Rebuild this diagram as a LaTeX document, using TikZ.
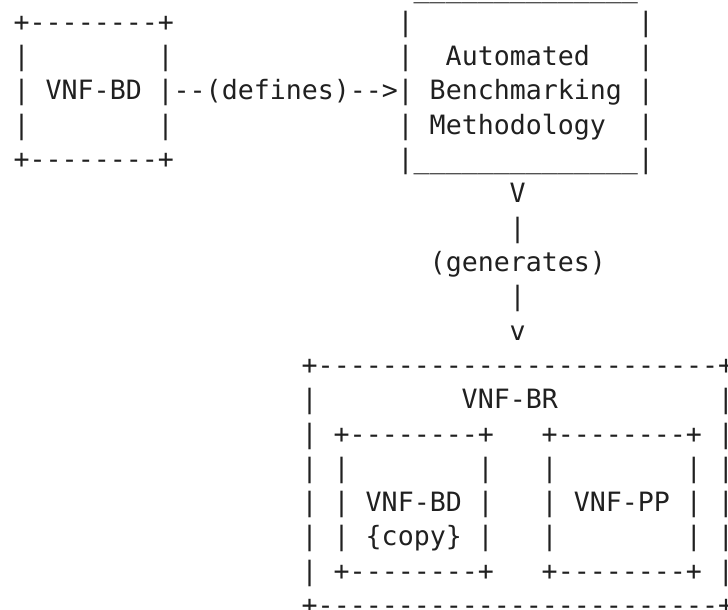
\documentclass[tikz,border=0pt]{standalone}
\usepackage{fontspec}
\setmonofont{DejaVu Sans Mono}
\definecolor{ink}{HTML}{202020}
\tikzstyle{ascii}=[anchor=base west, inner sep=0, outer sep=0, text=ink, font=\fontsize{13.3pt}{17pt}\ttfamily]
\newcommand{\uscore}{\_\_\_\_\_\_\_\_\_\_\_\_\_\_}

\begin{document}
\begin{tikzpicture}[x=8pt, y=-17.15pt]

\useasboundingbox [fill=white] (-0.856, -0.915) rectangle (44.64, 16.84);

% VNF-BD box
\node [ascii] (bdtop) at (0, 0) {+--------+};
\node [ascii] (bdbot) at (0, 4) {+--------+};
\foreach \r in {1,2,3} {
  \node [ascii] (bdl\r) at (0, \r) {|};
  \node [ascii] (bdr\r) at (9, \r) {|};
}
\node [ascii] (bd) at (2, 2) {VNF-BD};

\node [ascii] (defines) at (10, 2) {--(defines)-->};

% methodology box
\node [ascii] (abmtop) at (25, -1) {\uscore};
\foreach \r in {0,1,2,3} {
  \node [ascii] (abml\r) at (24, \r) {|};
  \node [ascii] (abmr\r) at (39, \r) {|};
}
\node [ascii] (abmbot) at (24, 4) {|\uscore|};
\node [ascii] (abm1) at (27, 1) {Automated};
\node [ascii] (abm2) at (26, 2) {Benchmarking};
\node [ascii] (abm3) at (26, 3) {Methodology};

\node [ascii] (genhead) at (31, 5) {V};
\node [ascii] (genbar1) at (31, 6) {|};
\node [ascii] (generates) at (26, 7) {(generates)};
\node [ascii] (genbar2) at (31, 8) {|};
\node [ascii] (gentip) at (31, 9) {v};

% VNF-BR box
\node [ascii] (brtop) at (18, 10) {+-------------------------+};
\node [ascii] (brbot) at (18, 17) {+-------------------------+};
\foreach \r in {11,...,16} {
  \node [ascii] (brl\r) at (18, \r) {|};
  \node [ascii] (brr\r) at (44, \r) {|};
}
\node [ascii] (br) at (28, 11) {VNF-BR};

\node [ascii] (cptop) at (20, 12) {+--------+};
\node [ascii] (cpbot) at (20, 16) {+--------+};
\node [ascii] (pptop) at (33, 12) {+--------+};
\node [ascii] (ppbot) at (33, 16) {+--------+};
\foreach \r in {13,14,15} {
  \node [ascii] (cpl\r) at (20, \r) {|};
  \node [ascii] (cpr\r) at (29, \r) {|};
  \node [ascii] (ppl\r) at (33, \r) {|};
  \node [ascii] (ppr\r) at (42, \r) {|};
}
\node [ascii] (cp1) at (22, 14) {VNF-BD};
\node [ascii] (cp2) at (22, 15) {\{copy\}};
\node [ascii] (pp) at (35, 14) {VNF-PP};

\end{tikzpicture}
\end{document}
